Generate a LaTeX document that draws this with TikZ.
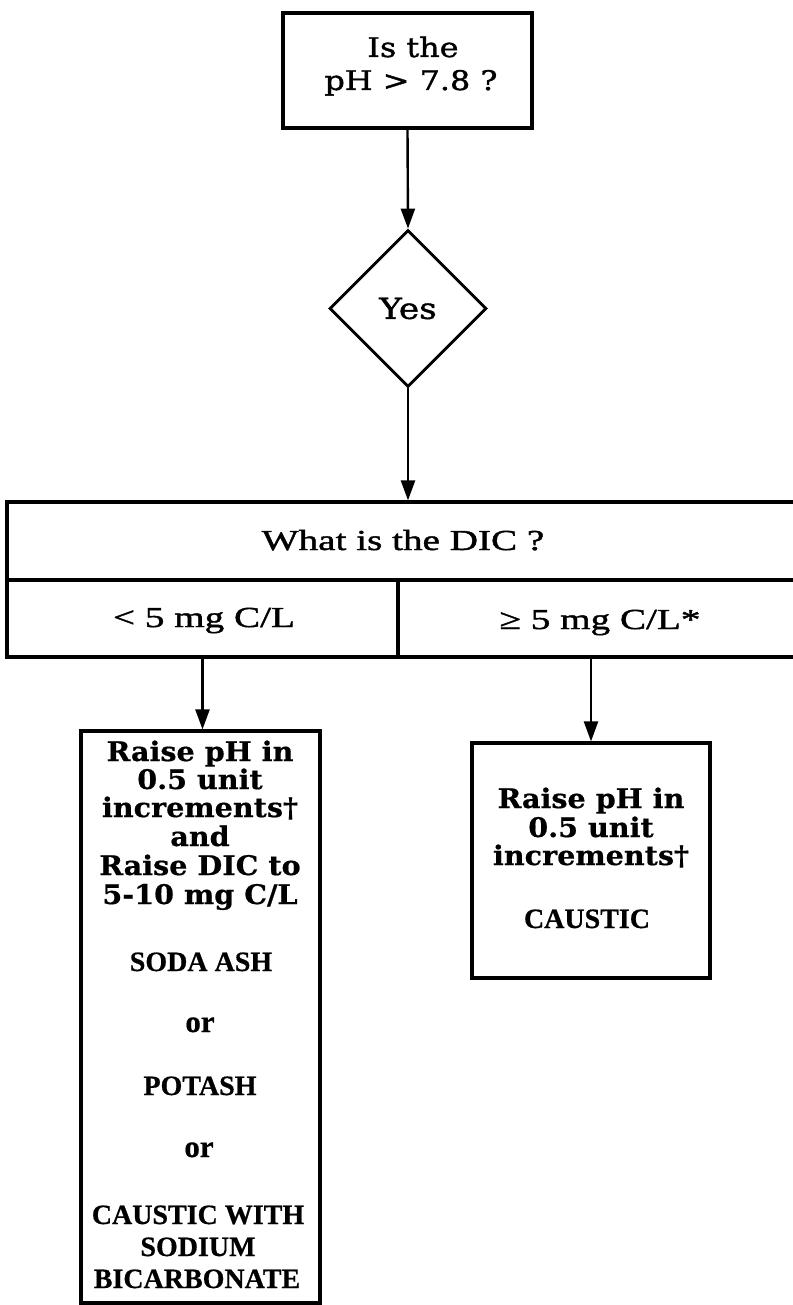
\documentclass[tikz,border=0pt]{standalone}
\usepackage{fontspec}
\usetikzlibrary{arrows.meta,shapes.geometric}
% Faces: a wide book serif for the questions and steps, a Times-like serif for the rest
\newfontfamily\schfont[FakeStretch=1.18,FakeBold=1.4]{DejaVu Serif}
\newfontfamily\schbold[FakeStretch=1.06,FakeBold=0.6]{DejaVu Serif}
\newfontfamily\romfont[FakeStretch=1.35,FakeBold=1.4]{Liberation Serif}
\newfontfamily\capfont[FakeBold=0.6]{Liberation Serif}
\begin{document}
\begin{tikzpicture}[x=1pt,y=-1pt,
  box/.style={draw, line width=3.2pt, inner sep=0pt},
  link/.style={line width=2.4pt, -{Triangle[length=20pt,width=14pt]}},
  qtext/.style={anchor=base, inner sep=0pt, font=\schfont\fontsize{27}{30}\selectfont},
  dictext/.style={anchor=base, inner sep=0pt, font=\romfont\fontsize{29}{30}\selectfont},
  steptext/.style={anchor=base, inner sep=0pt, font=\schbold\bfseries\fontsize{27}{30}\selectfont},
  chemtext/.style={anchor=base, inner sep=0pt, font=\capfont\bfseries\fontsize{28}{30}\selectfont},
  ortext/.style={anchor=base, inner sep=0pt, font=\capfont\bfseries\fontsize{31}{32}\selectfont}]
\useasboundingbox (0,0) rectangle (792,1305);

% question box
\node[box, minimum width=249pt, minimum height=115pt] (ph) at (407.5,70.5) {};
\node[qtext] (ph1) at (413,57) {Is the};
\node[qtext] (ph2) at (411,90) {pH > 7.8 ?};

% decision
\node[draw, diamond, shape aspect=1, line width=2.8pt, inner sep=0pt,
      minimum width=157pt, minimum height=157pt,
      font=\schfont\fontsize{29}{30}\selectfont] (yes) at (408,308.5) {Yes};

% DIC table
\node[box, minimum width=793pt, minimum height=78pt] (dic) at (403.5,541) {};
\node[box, minimum width=391pt, minimum height=77pt] (low) at (202.5,618.5) {};
\node[box, minimum width=402pt, minimum height=77pt] (high) at (599,618.5) {};
\node[dictext] (dic1) at (403,550) {What is the DIC ?};
\node[dictext] (low1) at (204,627) {< 5 mg C/L};
\node[dictext] (high1) at (600,629) {≥ 5 mg C/L*};

% low DIC treatment
\node[box, minimum width=239pt, minimum height=572pt] (lbox) at (200.5,1017) {};
\node[steptext] (l1) at (200,761) {Raise pH in};
\node[steptext] (l2) at (200,789) {0.5 unit};
\node[steptext] (l3) at (200,817) {increments†};
\node[steptext] (l4) at (200,846) {and};
\node[steptext] (l5) at (200,875) {Raise DIC to};
\node[steptext] (l6) at (200,904) {5-10 mg C/L};
\node[chemtext] (l7) at (201,971) {SODA ASH};
\node[ortext] (l8) at (200,1032) {or};
\node[chemtext] (l9) at (200,1095) {POTASH};
\node[ortext] (l10) at (199,1157) {or};
\node[chemtext] (l11) at (198,1224) {CAUSTIC WITH};
\node[chemtext] (l12) at (198,1256) {SODIUM};
\node[chemtext] (l13) at (197,1288) {BICARBONATE};

% high DIC treatment
\node[box, minimum width=238pt, minimum height=235pt] (rbox) at (591,860.5) {};
\node[steptext] (r1) at (591,808) {Raise pH in};
\node[steptext] (r2) at (591,837) {0.5 unit};
\node[steptext] (r3) at (591,865) {increments†};
\node[chemtext] (r4) at (587,928) {CAUSTIC};

% connectors
\draw[link] (ph.south) -- (yes.north);
\draw[link] (yes.south) -- (yes.south |- dic.north);
\draw[link] (low.south) -- (low.south |- lbox.north);
\draw[link] (rbox.north |- high.south) -- (rbox.north);
\end{tikzpicture}
\end{document}
